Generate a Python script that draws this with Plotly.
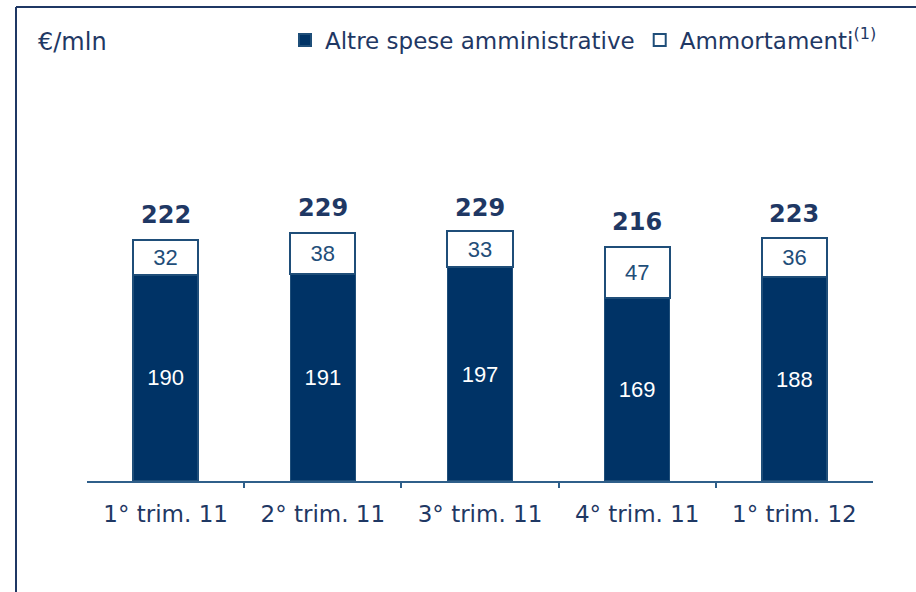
import plotly.graph_objects as go

categories = ["1° trim. 11", "2° trim. 11", "3° trim. 11", "4° trim. 11", "1° trim. 12"]
altre_spese = [190, 191, 197, 169, 188]
ammortamenti = [32, 38, 33, 47, 36]
totali = [222, 229, 229, 216, 223]

NAVY = "#003366"
TEXT = "#1F3864"
EDGE = "#1F4E79"

W, H = 916, 592
L, R, T, B = 87, 43, 60, 111
pw, ph = W - L - R, H - T - B

def px(x):
    return (x - L) / pw

def py(y):
    return (H - B - y) / ph

xs = list(range(len(categories)))

fig = go.Figure()
fig.add_trace(go.Bar(
    x=xs, y=altre_spese, name="Altre spese amministrative",
    marker=dict(color=NAVY, line=dict(color=EDGE, width=1.5)),
    text=[str(v) for v in altre_spese], textposition="inside",
    insidetextanchor="middle",
    textfont=dict(family="Liberation Sans, Arial", size=22, color="white"),
    width=0.414, hoverinfo="skip",
))
fig.add_trace(go.Bar(
    x=xs, y=ammortamenti, name="Ammortamenti<sup>(1)</sup>",
    marker=dict(color="white", line=dict(color=EDGE, width=2)),
    text=[str(v) for v in ammortamenti], textposition="inside",
    insidetextanchor="middle",
    textfont=dict(family="Liberation Sans, Arial", size=22, color=EDGE),
    width=0.414, hoverinfo="skip",
))
# invisible trace to host the boundary-tick axis
fig.add_trace(go.Scatter(x=[0], y=[0], xaxis="x2", mode="markers",
                         marker=dict(opacity=0), showlegend=False, hoverinfo="skip"))

for i, t in enumerate(totali):
    fig.add_annotation(x=i, y=t, text=f"<b>{t}</b>", showarrow=False,
                       yanchor="bottom", yshift=9,
                       font=dict(family="DejaVu Sans", size=24, color=TEXT))

fig.add_annotation(xref="paper", yref="paper", x=px(36), y=py(42),
                   xanchor="left", yanchor="middle", text="€/mln", showarrow=False,
                   font=dict(family="DejaVu Sans", size=24, color=TEXT))

# frame (top and left)
fig.add_shape(type="line", xref="paper", yref="paper",
              x0=px(16), x1=px(W + 5), y0=py(7), y1=py(7),
              line=dict(color=TEXT, width=2))
fig.add_shape(type="line", xref="paper", yref="paper",
              x0=px(16), x1=px(16), y0=py(7), y1=py(H + 5),
              line=dict(color=TEXT, width=2))

fig.update_layout(
    width=W, height=H,
    margin=dict(l=L, r=R, t=T, b=B),
    paper_bgcolor="white", plot_bgcolor="white",
    barmode="stack", showlegend=True,
    legend=dict(orientation="h", x=px(285), y=py(40), xanchor="left", yanchor="middle",
                font=dict(family="DejaVu Sans", size=23, color=TEXT),
                traceorder="normal", itemsizing="constant",
                bgcolor="rgba(0,0,0,0)"),
    xaxis=dict(range=[-0.5, 4.5], tickvals=xs, ticktext=categories, ticks="",
               showline=True, linecolor="#2F5F8A", linewidth=2, showgrid=False,
               zeroline=False, tickfont=dict(family="DejaVu Sans", size=23, color=TEXT),
               ticklabelstandoff=11, fixedrange=True),
    xaxis2=dict(range=[-0.5, 4.5], overlaying="x", side="bottom",
                tickvals=[0.5, 1.5, 2.5, 3.5], ticks="outside", ticklen=6,
                tickwidth=2, tickcolor="#2F5F8A", showticklabels=False,
                showline=False, showgrid=False, zeroline=False),
    yaxis=dict(range=[0, 388], visible=False, fixedrange=True),
    font=dict(family="DejaVu Sans", color=TEXT),
)

fig.write_html("out.html", config={"displayModeBar": False},
               post_script="document.body.style.margin='0';document.body.style.overflow='hidden';")
